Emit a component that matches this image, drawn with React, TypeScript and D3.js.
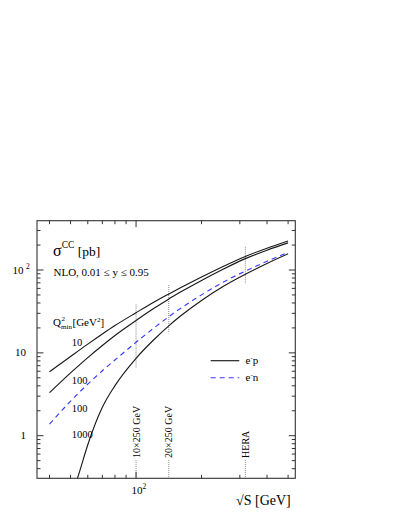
import React from 'react';
import * as d3 from 'd3';

const W = 399;
const H = 516;

// sqrt(S) grid [GeV]
const sqrtS = [40, 50, 60, 70, 80, 100, 120, 141, 160, 200, 250, 318, 400, 500];
// sigma CC [pb]
const sigmaEp10 = [5.92, 9.05, 12.75, 16.88, 21.35, 30.5, 40.5, 51.1, 61.0, 82.5, 109.7, 145.8, 183.4, 224.1];
const sigmaEp100 = [3.3, 5.72, 8.76, 12.26, 16.17, 24.56, 34.0, 44.5, 54.1, 74.9, 101.5, 137.2, 173.5, 212.6];
const sigmaEn100 = [1.38, 2.61, 4.2, 6.08, 8.21, 13.41, 19.67, 27.15, 34.3, 50.1, 70.8, 96.9, 127.5, 163];
const sqrtS1000 = [52, 55, 60, 70, 80, 100, 120, 141, 160, 200, 250, 318, 400, 500];
const sigmaEp1000 = [0.233, 0.368, 0.778, 2.2, 4.02, 8.59, 14.19, 21.05, 27.8, 42.95, 62.8, 89.0, 119.9, 156.7];

// curve labels (Q2min)
const curveLabels = ['10', '100', '100', '1000'];
const curveLabelS = [50.6, 50.6, 50.6, 50.6];
const curveLabelSigma = [12.1, 4.21, 1.93, 0.94];

// machine markers
const markerNames = ['10×250 GeV', '20×250 GeV', 'HERA'];
const markerS = [100, 141.4, 318];
const markerTop = [38.5, 65.9, 191];
const markerBottom = [6.5, 17.2, 69.1];
const markerLowTop = 0.51;

// axes
const xDomain = [35.05, 539.6];
const yDomain = [0.306, 393.7];
const xMinorTicks = [40, 50, 60, 70, 80, 90, 200, 300, 400, 500];
const xMajorTicks = [100];
const yMajorTicks = [1, 10, 100];
const yMinorTicks = [0.4, 0.5, 0.6, 0.7, 0.8, 0.9, 2, 3, 4, 5, 6, 7, 8, 9, 20, 30, 40, 50, 60, 70, 80, 90, 200, 300];

const L = 37, R = 295.3, T = 220.7, B = 478.3;

export default function App() {
  const x = d3.scaleLog().domain(xDomain).range([L, R]);
  const y = d3.scaleLog().domain(yDomain).range([B, T]);
  const line = d3.line<[number, number]>()
    .x(d => x(d[0]))
    .y(d => y(d[1]))
    .curve(d3.curveMonotoneX);
  const mk = (xs: number[], ys: number[]) => line(xs.map((v, i) => [v, ys[i]] as [number, number])) || '';

  const font = '"Liberation Serif", "Times New Roman", serif';
  const curveColor = '#1a1a1a';
  const blue = '#3a3aff';
  const majorLen = 6.5;
  const minorLen = 3.5;

  return (
    <svg width={W} height={H} style={{ position: 'absolute', left: 0, top: 0, background: '#fff' }} fontFamily={font}>
      <defs>
        <clipPath id="plotclip">
          <rect x={L} y={T} width={R - L} height={B - T} />
        </clipPath>
      </defs>
      <rect x={0} y={0} width={W} height={H} fill="#fff" />

      {/* markers */}
      {markerS.map((s, i) => (
        <g key={'m' + i}>
          <line x1={x(s)} x2={x(s)} y1={y(markerTop[i])} y2={y(markerBottom[i])} stroke="#888" strokeWidth={1} strokeDasharray="1,1" />
          <line x1={x(s)} x2={x(s)} y1={y(markerLowTop)} y2={B} stroke="#888" strokeWidth={1} strokeDasharray="1,1" />
          <text transform={`translate(${x(s) + 3.6},${y(markerLowTop) - 2}) rotate(-90)`} fontSize={10} fill="#000">{markerNames[i]}</text>
        </g>
      ))}

      {/* curves */}
      <g clipPath="url(#plotclip)" fill="none">
        <path d={mk(sqrtS, sigmaEp10)} stroke={curveColor} strokeWidth={1.15} />
        <path d={mk(sqrtS, sigmaEp100)} stroke={curveColor} strokeWidth={1.15} />
        <path d={mk(sqrtS, sigmaEn100)} stroke={blue} strokeWidth={1.15} strokeDasharray="5,4" />
        <path d={mk(sqrtS1000, sigmaEp1000)} stroke={curveColor} strokeWidth={1.15} />
      </g>

      {/* frame */}
      <rect x={L} y={T} width={R - L} height={B - T} fill="none" stroke="#333" strokeWidth={1.1} />

      {/* x ticks */}
      {xMinorTicks.map(t => (
        <g key={'xm' + t}>
          <line x1={x(t)} x2={x(t)} y1={B} y2={B - minorLen} stroke="#333" />
          <line x1={x(t)} x2={x(t)} y1={T} y2={T + minorLen} stroke="#333" />
        </g>
      ))}
      {xMajorTicks.map(t => (
        <g key={'xM' + t}>
          <line x1={x(t)} x2={x(t)} y1={B} y2={B - majorLen} stroke="#333" />
          <line x1={x(t)} x2={x(t)} y1={T} y2={T + majorLen} stroke="#333" />
          <text x={x(t) - 4.5} y={494} fontSize={11} fill="#000">10<tspan dy={-5} fontSize={7.5}>2</tspan></text>
        </g>
      ))}

      {/* y ticks */}
      {yMinorTicks.map(t => (
        <g key={'ym' + t}>
          <line x1={L} x2={L + minorLen} y1={y(t)} y2={y(t)} stroke="#333" />
          <line x1={R} x2={R - minorLen} y1={y(t)} y2={y(t)} stroke="#333" />
        </g>
      ))}
      {yMajorTicks.map(t => (
        <g key={'yM' + t}>
          <line x1={L} x2={L + majorLen} y1={y(t)} y2={y(t)} stroke="#333" />
          <line x1={R} x2={R - majorLen} y1={y(t)} y2={y(t)} stroke="#333" />
        </g>
      ))}
      <text x={26} y={y(1) + 3.5} fontSize={11} textAnchor="end">1</text>
      <text x={26} y={y(10) + 3.5} fontSize={11} textAnchor="end">10</text>
      <text x={12.5} y={y(100) + 3.5} fontSize={11}>10<tspan dx={2.5} dy={-5} fontSize={7.5}>2</tspan></text>

      {/* axis title */}
      <text x={236} y={505} fontSize={14}>√S [GeV]</text>

      {/* title texts */}
      <text x={53} y={256} fontSize={16}>σ<tspan dy={-8} fontSize={9.5}>CC</tspan><tspan dy={8} fontSize={13.5}> [pb]</tspan></text>
      <text x={53.5} y={276} fontSize={11}>NLO, 0.01 ≤ y ≤ 0.95</text>
      <text x={53} y={326} fontSize={11}>Q</text>
      <text x={61.5} y={320.5} fontSize={7}>2</text>
      <text x={61} y={328.5} fontSize={7}>min</text>
      <text x={72.5} y={326} fontSize={11}>[GeV<tspan dy={-4.5} fontSize={7}>2</tspan><tspan dy={4.5}>]</tspan></text>

      {/* curve labels */}
      {curveLabels.map((lab, i) => (
        <text key={'cl' + i} x={x(curveLabelS[i])} y={y(curveLabelSigma[i])} fontSize={10.5}>{lab}</text>
      ))}

      {/* legend */}
      <line x1={210.7} x2={239.3} y1={360.7} y2={360.7} stroke={curveColor} strokeWidth={1.15} />
      <text x={245.5} y={364} fontSize={11}>e<tspan dy={-4.5} fontSize={7}>-</tspan><tspan dy={4.5}>p</tspan></text>
      <line x1={210.7} x2={239.3} y1={377.7} y2={377.7} stroke={blue} strokeWidth={1.15} strokeDasharray="5,4" />
      <text x={245.5} y={381} fontSize={11}>e<tspan dy={-4.5} fontSize={7}>-</tspan><tspan dy={4.5}>n</tspan></text>
    </svg>
  );
}
